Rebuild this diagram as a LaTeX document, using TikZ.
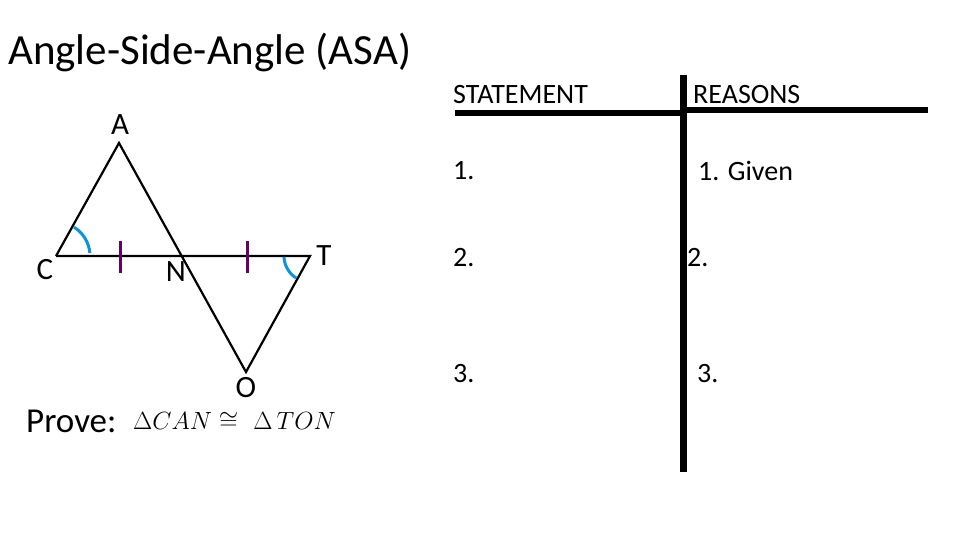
\documentclass[tikz,border=0pt]{standalone}
\usepackage{fontspec}
\setmainfont{Carlito}
\usepackage{amssymb}
\tikzstyle{side} = [line width=2.2pt, black]
\tikzstyle{tickmark} = [line width=3pt, violet!80!black]
\tikzstyle{anglemark} = [line width=3pt, cyan!80!blue]
\tikzstyle{label} = [font=\fontsize{31}{31}\selectfont, inner sep=0pt]
\tikzstyle{cell} = [font=\fontsize{28}{28}\selectfont, anchor=west, inner sep=0pt]
\begin{document}
\begin{tikzpicture}[x=1pt, y=-1pt]
        \useasboundingbox (0,0) rectangle (960,540);
        \node (title) at (8,52) [anchor=west, inner sep=0pt, font=\fontsize{43}{43}\selectfont] {Angle-Side-Angle (ASA)};

        % triangle points
        \coordinate (a) at (119,143);
        \coordinate (c) at (56,256);
        \coordinate (n) at (183,256);
        \coordinate (t) at (310,256);
        \coordinate (o) at (246,372);

        \draw[side] (c) -- (a) -- (o) -- (t) -- (c);

        \draw[tickmark] (120,241) -- (120,273);
        \draw[tickmark] (247,241) -- (247,273);
        \draw[anglemark] (c) ++(-5:34) arc (-5:-58:34);
        \draw[anglemark] (t) ++(178:26) arc (178:122:26);

        \node (lA) at (120,125) [label] {A};
        \node (lC) at (45,270) [label] {C};
        \node (lN) at (176,272) [label] {N};
        \node (lT) at (324,256) [label] {T};
        \node (lO) at (246,388) [label] {O};

        \node (prove) at (26,421) [anchor=west, inner sep=0pt, font=\fontsize{35}{35}\selectfont] {Prove:};
        \node (claim) at (133,421) [anchor=west, inner sep=0pt, font=\fontsize{36}{36}\selectfont] {$\Delta CAN\cong\ \Delta\,TON$};

        % table
        \coordinate (top) at (683,75);
        \coordinate (bot) at (683,472);
        \draw[line width=7pt] (top) -- (bot);
        \draw[line width=6pt] (455,113) -- (683,113);
        \draw[line width=6pt] (683,110) -- (928,110);

        \node (st) at (453,95) [cell] {STATEMENT};
        \node (rs) at (693,95) [cell] {REASONS};
        \node (s1) at (453,171) [cell] {1.};
        \node (r1) at (698,171) [cell] {1. Given};
        \node (s2) at (453,258) [cell] {2.};
        \node (r2) at (687,258) [cell] {2.};
        \node (s3) at (453,374) [cell] {3.};
        \node (r3) at (697,374) [cell] {3.};
\end{tikzpicture}
\end{document}
